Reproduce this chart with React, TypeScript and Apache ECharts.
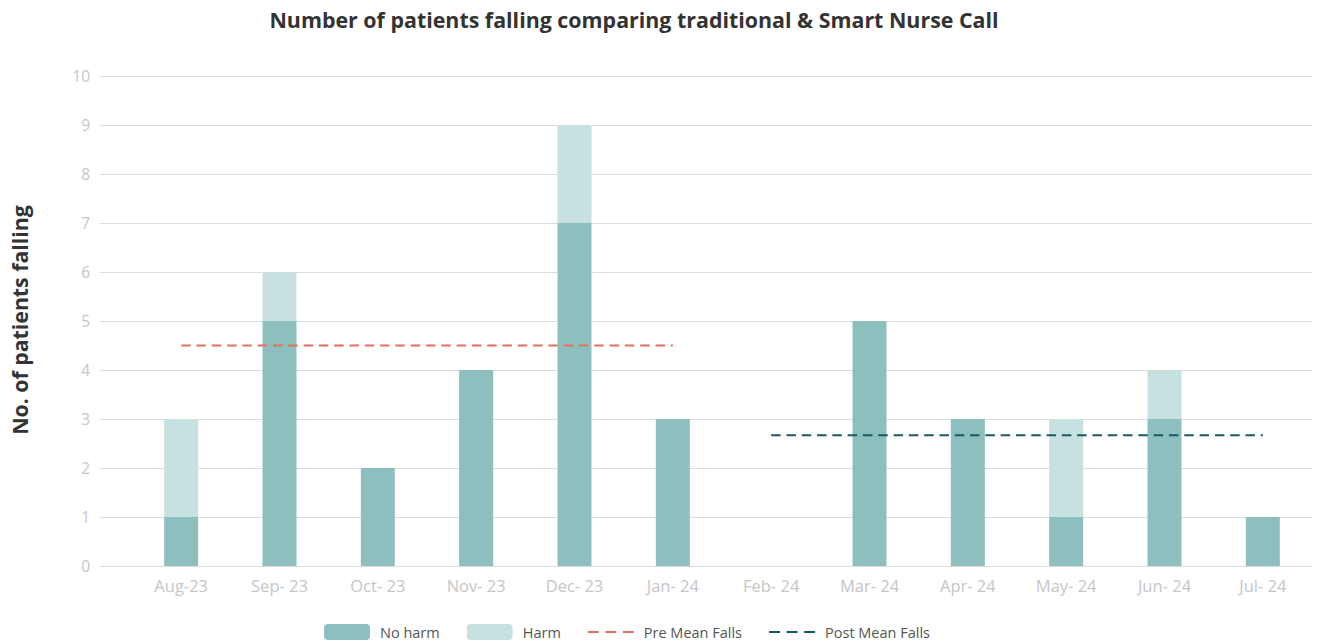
import React, { useEffect, useRef } from "react";
import * as echarts from "echarts";

const categories = ["Aug-23", "Sep- 23", "Oct- 23", "Nov- 23", "Dec- 23", "Jan- 24", "Feb- 24", "Mar- 24", "Apr- 24", "May- 24", "Jun- 24", "Jul- 24"];
const noHarm = [1, 5, 2, 4, 7, 3, 0, 5, 3, 1, 3, 1];
const harm = [2, 1, 0, 0, 2, 0, 0, 0, 0, 2, 1, 0];
const preMean = [4.5, 4.5, 4.5, 4.5, 4.5, 4.5, null, null, null, null, null, null];
const postMean = [null, null, null, null, null, null, 2.67, 2.67, 2.67, 2.67, 2.67, 2.67];

const FONT = "'Open Sans', sans-serif";
const DASH_ICON = "path://M0,0h10v2h-10z M16,0h10v2h-10z M32,0h10v2h-10z";

export default function App() {
  const ref = useRef<HTMLDivElement>(null);
  useEffect(() => {
    if (!ref.current) return;
    const chart = echarts.init(ref.current, null, { renderer: "svg" });
    chart.setOption({
      animation: false,
      textStyle: { fontFamily: FONT },
      graphic: [
        {
          type: "text",
          x: 634,
          y: 19,
          style: {
            text: "Number of patients falling comparing traditional & Smart Nurse Call",
            font: `bold 21.4px ${FONT}`,
            fill: "#333333",
            align: "center",
            verticalAlign: "middle",
          },
        },
        {
          type: "text",
          x: 19,
          y: 320,
          rotation: Math.PI / 2,
          style: {
            text: "No. of patients falling",
            font: `bold 21.3px ${FONT}`,
            fill: "#333333",
            align: "center",
            verticalAlign: "middle",
          },
        },
      ],
      grid: [
        { left: 100, right: 8, top: 76, bottom: 76 },
        { left: 132, right: 8, top: 76, bottom: 76 },
      ],
      xAxis: [
        { type: "value", gridIndex: 0, show: false, min: 0, max: 1, splitLine: { show: false } },
        {
          type: "category",
          gridIndex: 1,
          data: categories,
          axisLine: { show: false },
          axisTick: { show: false },
          axisLabel: { color: "#c6c6c6", fontSize: 16.5, margin: 11, fontFamily: FONT },
        },
      ],
      yAxis: [
        {
          type: "value",
          gridIndex: 0,
          min: 0,
          max: 10,
          interval: 1,
          axisLine: { show: false },
          axisTick: { show: false },
          axisLabel: { color: "#c6c6c6", fontSize: 15.5, margin: 10, fontFamily: FONT },
          splitLine: { lineStyle: { color: "#dcdcdc", width: 1 } },
        },
        {
          type: "value",
          gridIndex: 1,
          min: 0,
          max: 10,
          interval: 1,
          show: false,
          splitLine: { show: false },
        },
      ],
      legend: {
        top: 624,
        left: 324,
        padding: 0,
        itemWidth: 46,
        itemHeight: 16,
        itemGap: 27,
        textStyle: { color: "#555555", fontSize: 14.5, fontFamily: FONT, padding: [0, 0, 0, 5] },
        data: [
          { name: "No harm" },
          { name: "Harm" },
          { name: "Pre Mean Falls", icon: DASH_ICON },
          { name: "Post Mean Falls", icon: DASH_ICON },
        ],
      },
      series: [
        {
          name: "No harm",
          type: "bar",
          xAxisIndex: 1,
          yAxisIndex: 1,
          stack: "falls",
          barWidth: 34,
          data: noHarm,
          itemStyle: { color: "#8dbfbf" },
        },
        {
          name: "Harm",
          type: "bar",
          xAxisIndex: 1,
          yAxisIndex: 1,
          stack: "falls",
          barWidth: 34,
          data: harm,
          itemStyle: { color: "#c7e1e1" },
        },
        {
          name: "Pre Mean Falls",
          type: "line",
          xAxisIndex: 1,
          yAxisIndex: 1,
          data: preMean,
          symbol: "none",
          lineStyle: { color: "#ec6f5a", width: 2, type: [9.5, 5.8] },
          itemStyle: { color: "#ec6f5a" },
          z: 5,
        },
        {
          name: "Post Mean Falls",
          type: "line",
          xAxisIndex: 1,
          yAxisIndex: 1,
          data: postMean,
          symbol: "none",
          lineStyle: { color: "#1b5a63", width: 2, type: [9.5, 5.8] },
          itemStyle: { color: "#1b5a63" },
          z: 5,
        },
      ],
    });
    return () => chart.dispose();
  }, []);
  return <div ref={ref} style={{ position: "absolute", left: 0, top: 0, width: 1320, height: 642 }} />;
}
